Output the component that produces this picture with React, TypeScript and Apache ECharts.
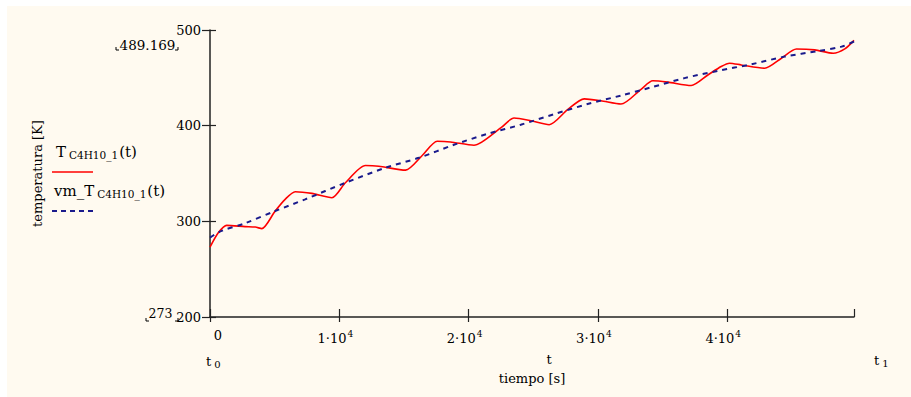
import React, { useEffect, useRef } from "react";
import * as echarts from "echarts";

// time [s] and temperature [K] of T_C4H10_1(t)
const tempTime = [0, 640, 1290, 2710, 3500, 4010, 5040, 5810, 6590, 7880, 9430, 10470, 12020, 13050, 15120, 16410, 17570, 18600, 20410, 22480, 23510, 24810, 26230, 27650, 28940, 30230, 31780, 33330, 34240, 35400, 37210, 38500, 39530, 40180, 41080, 42890, 44190, 45350, 46770, 48190, 49090, 49800];
const tempValue = [273, 288, 295.8, 294.5, 294, 292.4, 310.8, 323, 331, 329.2, 324.7, 340.3, 358.3, 357.6, 353.5, 368.8, 383.7, 383, 379.5, 397.6, 408, 405.2, 401, 416.7, 428, 426, 422.6, 438, 446.9, 445.5, 442, 453, 461.8, 465.3, 463.5, 460, 470.5, 480.2, 479.2, 475.7, 480.2, 489.169];

// time [s] and temperature [K] of vm_T_C4H10_1(t)
const meanTime = [0, 900, 2710, 5040, 7360, 10470, 13570, 16150, 18860, 21450, 24030, 26610, 29200, 31780, 34110, 36690, 39270, 41860, 44440, 47030, 48840, 49800];
const meanValue = [283, 290, 298, 310.8, 323, 340.3, 356, 366.4, 380, 391.4, 401, 412, 422.6, 431.5, 440, 449.7, 457.3, 464.2, 472.2, 478, 482.6, 488];

const xMin = 0;
const xMax = 49800;
const xInterval = 10000;
const yMin = 200;
const yMax = 500;
const yInterval = 100;

const yRangeTop = "489.169";
const yRangeBottom = "273";
const xTitle = "tiempo [s]";
const yTitle = "temperatura [K]";

const FONT = "'DejaVu Serif', 'Liberation Serif', serif";
const RED = "#ff0000";
const BLUE = "#1a1a8c";
const AXIS = "#222222";

export default function App() {
  const ref = useRef<HTMLDivElement>(null);

  useEffect(() => {
    if (!ref.current) return;
    const chart = echarts.init(ref.current, null, { renderer: "svg" });

    const tempData = tempTime.map((t, i) => [t, tempValue[i]]);
    const meanData = meanTime.map((t, i) => [t, meanValue[i]]);

    const gridRect = { left: 210, top: 30, width: 644, height: 287 };
    const markRich = {
      b: { fontFamily: FONT, fontSize: 13, fill: "#000", lineHeight: 18 },
      s: { fontFamily: FONT, fontSize: 10, fill: "#000", padding: [6, 0, 0, 3], lineHeight: 18 },
    };
    const legendRich = {
      b: { fontFamily: FONT, fontSize: 15, fill: "#000", lineHeight: 20 },
      s: { fontFamily: FONT, fontSize: 10.5, fill: "#000", padding: [5, 1, 0, 3], lineHeight: 20 },
    };

    const corner = (x: number, y: number, dir: number) => ({
      type: "polyline",
      silent: true,
      shape: { points: [[x, y - 3], [x, y], [x + 3 * dir, y]] },
      style: { stroke: "#000", lineWidth: 1, fill: null },
    });

    chart.setOption({
      animation: false,
      backgroundColor: "#ffffff",
      grid: [
        { ...gridRect, containLabel: false },
        { ...gridRect, containLabel: false },
      ],
      xAxis: [
        {
          type: "value",
          gridIndex: 0,
          min: xMin,
          max: xMax,
          interval: xInterval,
          position: "bottom",
          axisLine: { show: true, onZero: false, lineStyle: { color: AXIS, width: 1.5 } },
          axisTick: { show: true, inside: false, length: 5, lineStyle: { color: AXIS, width: 1.2 } },
          splitLine: { show: false },
          axisLabel: {
            show: true,
            margin: 12,
            color: "#000",
            fontFamily: FONT,
            fontSize: 13,
            showMaxLabel: false,
            formatter: (v: number) =>
              v === 0 ? "{z|0}" : `{a|${v / 10000}·10}{p|4}`,
            rich: {
              z: { fontFamily: FONT, fontSize: 13, color: "#000", padding: [0, 0, 0, 16] },
              a: { fontFamily: FONT, fontSize: 13, color: "#000", lineHeight: 18 },
              p: { fontFamily: FONT, fontSize: 9, color: "#000", verticalAlign: "top", lineHeight: 10, padding: [0, 8, 0, 1] },
            },
          },
          name: xTitle,
          nameLocation: "middle",
          nameGap: 55,
          nameTextStyle: { fontFamily: FONT, fontSize: 13, color: "#000" },
        },
        {
          type: "value",
          gridIndex: 1,
          min: xMin,
          max: xMax,
          interval: xInterval,
          position: "bottom",
          axisLine: { show: false, onZero: false },
          axisTick: { show: true, inside: true, length: 8, lineStyle: { color: AXIS, width: 1.2 } },
          splitLine: { show: false },
          axisLabel: { show: false },
        },
      ],
      yAxis: [
        {
          type: "value",
          gridIndex: 0,
          min: yMin,
          max: yMax,
          interval: yInterval,
          position: "left",
          axisLine: { show: true, onZero: false, lineStyle: { color: AXIS, width: 1.5 } },
          axisTick: { show: true, inside: false, length: 8, lineStyle: { color: AXIS, width: 1.2 } },
          splitLine: { show: false },
          axisLabel: { margin: 9, color: "#000", fontFamily: FONT, fontSize: 13 },
          name: yTitle,
          nameLocation: "middle",
          nameRotate: 90,
          nameGap: 166,
          nameTextStyle: { fontFamily: FONT, fontSize: 13, color: "#000" },
        },
        {
          type: "value",
          gridIndex: 1,
          min: yMin,
          max: yMax,
          interval: yInterval,
          position: "left",
          axisLine: { show: false, onZero: false },
          axisTick: { show: true, inside: true, length: 6, lineStyle: { color: AXIS, width: 1.2 } },
          splitLine: { show: false },
          axisLabel: { show: false },
        },
      ],
      series: [
        {
          type: "line",
          name: "T",
          xAxisIndex: 0,
          yAxisIndex: 0,
          data: tempData,
          showSymbol: false,
          smooth: 0.25,
          lineStyle: { color: RED, width: 1.6 },
          z: 3,
        },
        {
          type: "line",
          name: "vm_T",
          xAxisIndex: 0,
          yAxisIndex: 0,
          data: meanData,
          showSymbol: false,
          smooth: 0.3,
          lineStyle: { color: BLUE, width: 2, type: [5, 5] },
          z: 4,
        },
      ],
      graphic: [
        {
          type: "rect",
          z: -100,
          silent: true,
          shape: { x: 7, y: 6, width: 904, height: 391 },
          style: { fill: "#fffaf0" },
        },
        {
          type: "text",
          x: 147.5,
          y: 44.5,
          style: { text: yRangeTop, font: `13.5px ${FONT}`, fill: "#000", align: "center", verticalAlign: "middle" },
        },
        corner(116, 50, 1),
        corner(178, 50, -1),
        {
          type: "text",
          x: 160.5,
          y: 313,
          style: { text: yRangeBottom, font: `12.5px ${FONT}`, fill: "#000", align: "center", verticalAlign: "middle" },
        },
        corner(146, 321, 1),
        corner(178, 321, -1),
        {
          type: "text",
          x: 206,
          y: 361,
          style: { text: "{b|t}{s|0}", rich: markRich, align: "left", verticalAlign: "middle" },
        },
        {
          type: "text",
          x: 549,
          y: 359,
          style: { text: "t", font: `13px ${FONT}`, fill: "#000", align: "center", verticalAlign: "middle" },
        },
        {
          type: "text",
          x: 874,
          y: 360,
          style: { text: "{b|t}{s|1}", rich: markRich, align: "left", verticalAlign: "middle" },
        },
        {
          type: "text",
          x: 56,
          y: 152,
          style: { text: "{b|T}{s|C4H10_1}{b|(t)}", rich: legendRich, align: "left", verticalAlign: "middle" },
        },
        {
          type: "line",
          silent: true,
          shape: { x1: 52, y1: 172, x2: 93, y2: 172 },
          style: { stroke: RED, lineWidth: 1.6 },
        },
        {
          type: "text",
          x: 54,
          y: 191,
          style: { text: "{b|vm_T}{s|C4H10_1}{b|(t)}", rich: legendRich, align: "left", verticalAlign: "middle" },
        },
        {
          type: "line",
          silent: true,
          shape: { x1: 52, y1: 211, x2: 93, y2: 211 },
          style: { stroke: BLUE, lineWidth: 2, lineDash: [5, 4] },
        },
      ],
    });

    return () => chart.dispose();
  }, []);

  return (
    <div
      ref={ref}
      style={{ position: "fixed", left: 0, top: 0, width: 911, height: 397 }}
    />
  );
}
